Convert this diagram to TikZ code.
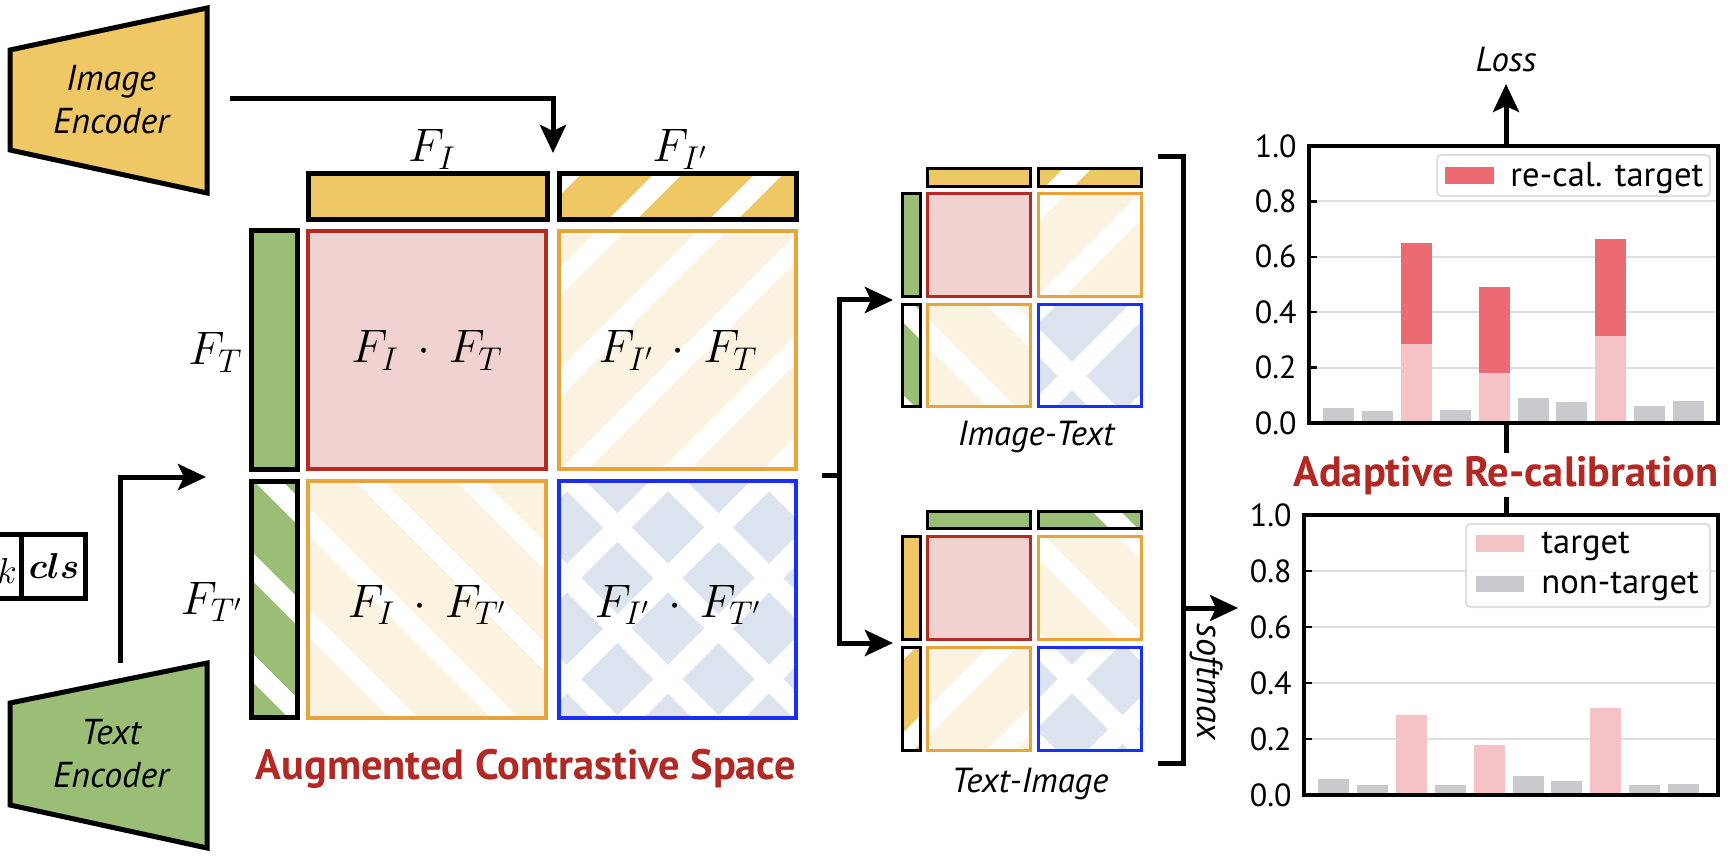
\RequirePackage{fix-cm}
\documentclass[tikz,border=0pt]{standalone}
\usepackage{bm}
\usepackage[no-math]{fontspec}
\setsansfont{PT Sans}
\usetikzlibrary{arrows.meta}

\definecolor{encY}{RGB}{239,200,101}
\definecolor{encG}{RGB}{155,190,118}
\definecolor{posFill}{RGB}{240,211,209}
\definecolor{posLine}{RGB}{181,42,34}
\definecolor{augFill}{RGB}{252,242,224}
\definecolor{augLine}{RGB}{232,164,60}
\definecolor{negFill}{RGB}{221,228,239}
\definecolor{negLine}{RGB}{26,47,245}
\definecolor{titleRed}{RGB}{178,40,35}
\definecolor{recalRed}{RGB}{236,106,113}
\definecolor{tgtPink}{RGB}{245,194,198}
\definecolor{nonGray}{RGB}{201,201,206}
\definecolor{gridGray}{RGB}{222,222,222}

\tikzset{
  stripe/.style={white, line width=10pt},
  conn/.style={line width=2.5pt, -{Stealth[length=14pt,width=13pt,inset=3pt]}},
  wire/.style={line width=2.5pt},
  enc/.style={draw=black, line width=2.5pt},
  enclabel/.style={font=\sffamily\itshape\fontsize{18}{21.5}\selectfont, align=center},
  minilabel/.style={font=\sffamily\itshape\fontsize{17.4}{21}\selectfont, inner sep=0pt},
  title/.style={font=\sffamily\bfseries\fontsize{21.2}{25}\selectfont, text=titleRed},
  mathlabel/.style={font=\fontsize{23.5}{28}\selectfont, inner sep=0pt},
  tick/.style={font=\sffamily\fontsize{16}{19}\selectfont, anchor=east, inner sep=0pt},
  legend/.style={font=\sffamily\fontsize{17.3}{20}\selectfont, anchor=west, inner sep=0pt},
}

% white "/" stripes, same phase everywhere
\newcommand{\stripesNE}[4]{%
  \begin{scope}
    \clip (#1,#2) rectangle (#3,#4);
    \foreach \k in {3,...,19}
      \draw[stripe] ({34+101*\k},0) -- ({34+101*\k-900},900);
  \end{scope}}
% white "\" stripes
\newcommand{\stripesNW}[4]{%
  \begin{scope}
    \clip (#1,#2) rectangle (#3,#4);
    \foreach \k in {-6,...,6}
      \draw[stripe] ({90+101*\k},0) -- ({90+101*\k+900},900);
  \end{scope}}
% box: corners, fill, line colour, line width, hatch (0 none, 1 /, 2 \, 3 both)
\newcommand{\hatchbox}[8]{%
  \fill[#5] (#1,#2) rectangle (#3,#4);
  \ifcase#8 \or\stripesNE{#1}{#2}{#3}{#4}\or\stripesNW{#1}{#2}{#3}{#4}\or
    \stripesNE{#1}{#2}{#3}{#4}\stripesNW{#1}{#2}{#3}{#4}\fi
  \draw[#6, line width=#7] (#1,#2) rectangle (#3,#4);}

\begin{document}
\begin{tikzpicture}[x=0.5pt,y=-0.5pt]
\useasboundingbox (0,0) rectangle (1732,860);

% encoders
\draw[enc, fill=encY] (10,50) -- (207,8) -- (207,193) -- (10,150) -- cycle;
\node[enclabel] (imgenc) at (111,100) {Image\\Encoder};
\draw[enc, fill=encG] (10,703) -- (207,663) -- (207,848) -- (10,805) -- cycle;
\node[enclabel] (txtenc) at (111,754) {Text\\Encoder};

% token boxes
\draw[wire] (-20,534) rectangle (85,598);
\draw[wire] (21,534) -- (21,598);
\node[mathlabel, font=\fontsize{18}{21}\selectfont, anchor=base] (tokk) at (7,583) {$k$};
\node[mathlabel, font=\fontsize{18}{21}\selectfont, anchor=base] (tokcls) at (54,578) {$\bm{cls}$};

% augmented contrastive space
\hatchbox{308}{174}{547}{220}{encY}{black}{2.5pt}{0}
\hatchbox{559}{174}{796}{220}{encY}{black}{2.5pt}{1}
\hatchbox{251}{231}{297}{469}{encG}{black}{2.5pt}{0}
\hatchbox{251}{481}{297}{717}{encG}{black}{2.5pt}{2}
\hatchbox{308}{231}{546}{469}{posFill}{posLine}{2.2pt}{0}
\hatchbox{559}{231}{796}{469}{augFill}{augLine}{2.2pt}{1}
\hatchbox{308}{481}{546}{718}{augFill}{augLine}{2.2pt}{2}
\hatchbox{559}{481}{796}{718}{negFill}{negLine}{2.2pt}{3}

\node[mathlabel, anchor=base] (fi) at (432,162) {$F_I$};
\node[mathlabel, anchor=base] (fip) at (680,162) {$F_{I'}$};
\node[mathlabel, anchor=base east] (ft) at (243,365) {$F_T$};
\node[mathlabel, anchor=base east] (ftp) at (243,614) {$F_{T'}$};
\node[mathlabel, anchor=base] (s11) at (427,363) {$F_I \,\cdot\, F_T$};
\node[mathlabel, anchor=base] (s21) at (678,363) {$F_{I'} \,\cdot\, F_T$};
\node[mathlabel, anchor=base] (s12) at (427,617) {$F_I \,\cdot\, F_{T'}$};
\node[mathlabel, anchor=base] (s22) at (678,617) {$F_{I'} \,\cdot\, F_{T'}$};
\node[title, anchor=base] (acs) at (526,779) {Augmented Contrastive Space};

% image-text
\hatchbox{927.5}{168.5}{1030.5}{186.5}{encY}{black}{1.7pt}{0}
\hatchbox{1038.5}{168.5}{1141.5}{186.5}{encY}{black}{1.7pt}{1}
\hatchbox{902.5}{193.5}{920.5}{296.5}{encG}{black}{1.7pt}{0}
\hatchbox{902.5}{304.5}{920.5}{406.5}{encG}{black}{1.7pt}{2}
\hatchbox{927.5}{193.5}{1030.5}{296.5}{posFill}{posLine}{1.7pt}{0}
\hatchbox{1038.5}{193.5}{1141.5}{296.5}{augFill}{augLine}{1.7pt}{1}
\hatchbox{927.5}{304.5}{1030.5}{406.5}{augFill}{augLine}{1.7pt}{2}
\hatchbox{1038.5}{304.5}{1141.5}{406.5}{negFill}{negLine}{1.7pt}{3}
\node[minilabel, anchor=base] (it) at (1036,445) {Image-Text};

% text-image
\hatchbox{927.5}{511.5}{1030.5}{528.5}{encG}{black}{1.7pt}{0}
\hatchbox{1038.5}{511.5}{1141.5}{528.5}{encG}{black}{1.7pt}{2}
\hatchbox{902.5}{536.5}{920.5}{639.5}{encY}{black}{1.7pt}{0}
\hatchbox{902.5}{647.5}{920.5}{750.5}{encY}{black}{1.7pt}{1}
\hatchbox{927.5}{536.5}{1030.5}{639.5}{posFill}{posLine}{1.7pt}{0}
\hatchbox{1038.5}{536.5}{1141.5}{639.5}{augFill}{augLine}{1.7pt}{2}
\hatchbox{927.5}{647.5}{1030.5}{750.5}{augFill}{augLine}{1.7pt}{1}
\hatchbox{1038.5}{647.5}{1141.5}{750.5}{negFill}{negLine}{1.7pt}{3}
\node[minilabel, anchor=base] (ti) at (1030,792) {Text-Image};

% connectors
\coordinate (imgout) at (230,99);
\coordinate (imgin) at (553,153);
\coordinate (txtout) at (120,663);
\coordinate (txtin) at (206,477);
\coordinate (simout) at (822,475);
\coordinate (split) at (839,475);
\coordinate (itin) at (893,300);
\coordinate (tiin) at (893,643);
\coordinate (brtop) at (1158,157);
\coordinate (brbot) at (1158,763);
\coordinate (brmid) at (1183,608);
\coordinate (smin) at (1238,608);
\draw[conn] (imgout) -| (imgin);
\draw[conn] (txtout) |- (txtin);
\draw[wire] (simout) -- (split);
\draw[conn] (split) |- (itin);
\draw[conn] (split) |- (tiin);
\draw[wire] (brtop) -| (brmid) |- (brbot);
\draw[conn] (brmid) -- (smin);
\node[minilabel, font=\sffamily\itshape\fontsize{18}{21}\selectfont, rotate=-90] (sm) at (1207,682) {softmax};

% re-calibrated chart
\coordinate (lossfrom) at (1506,146);
\coordinate (lossto) at (1506,84);
\coordinate (topbot) at (1506,423);
\coordinate (bottop) at (1506,515);
\draw[conn] (lossfrom) -- (lossto);
\node[minilabel, anchor=base] (loss) at (1506,72) {Loss};
\draw[wire] (topbot) -- (bottop);
\node[title, fill=white, inner sep=1.5pt, anchor=base] (arc) at (1506,486) {Adaptive Re-calibration};

\begin{scope}[shift={(1309,423)}, y=138.5pt]
  \foreach \v in {0.2,0.4,0.6,0.8} {
    \draw[gridGray, line width=1pt] (0,\v) -- (409,\v);
    \draw[line width=1.2pt] (0,\v) -- (8,\v);
  }
  \foreach \v in {0.0,0.2,0.4,0.6,0.8,1.0}
    \node[tick] at (-12,\v) {\v};
  \foreach \i/\h in {1/0.054,2/0.043,4/0.046,6/0.089,7/0.075,9/0.061,10/0.079}
    \fill[nonGray] ({14+38.9*(\i-1)},0) rectangle ({45+38.9*(\i-1)},\h);
  \foreach \i/\lo/\hi in {3/0.286/0.65,5/0.18/0.49,8/0.314/0.665} {
    \fill[tgtPink] ({14+38.9*(\i-1)},0) rectangle ({45+38.9*(\i-1)},\lo);
    \fill[recalRed] ({14+38.9*(\i-1)},\lo) rectangle ({45+38.9*(\i-1)},\hi);
  }
\end{scope}
\draw[gridGray, line width=1pt, rounded corners=2pt, fill=white, fill opacity=0.85] (1437,155) rectangle (1710,196);
\fill[recalRed] (1445,167) rectangle (1494,184);
\node[legend] (lgrecal) at (1510,178) {re-cal. target};
\draw[line width=2.2pt] (1309,146) rectangle (1718,423);

% softmax chart
\begin{scope}[shift={(1304,795)}, y=140pt]
  \foreach \v in {0.2,0.4,0.6,0.8} {
    \draw[gridGray, line width=1pt] (0,\v) -- (414,\v);
    \draw[line width=1.2pt] (0,\v) -- (8,\v);
  }
  \foreach \v in {0.0,0.2,0.4,0.6,0.8,1.0}
    \node[tick] at (-12,\v) {\v};
  \foreach \i/\h in {1/0.058,2/0.037,4/0.037,6/0.067,7/0.05,9/0.037,10/0.04}
    \fill[nonGray] ({14+38.9*(\i-1)},0) rectangle ({45+38.9*(\i-1)},\h);
  \foreach \i/\h in {3/0.286,5/0.18,8/0.31}
    \fill[tgtPink] ({14+38.9*(\i-1)},0) rectangle ({45+38.9*(\i-1)},\h);
\end{scope}
\draw[gridGray, line width=1pt, rounded corners=2pt, fill=white, fill opacity=0.85] (1466,524) rectangle (1710,607);
\fill[tgtPink] (1476,535) rectangle (1524,552);
\fill[nonGray] (1476,576) rectangle (1524,592);
\node[legend] (lgtgt) at (1541,546) {target};
\node[legend] (lgnon) at (1541,586) {non-target};
\draw[line width=2.2pt] (1304,515) rectangle (1718,795);
\end{tikzpicture}
\end{document}
